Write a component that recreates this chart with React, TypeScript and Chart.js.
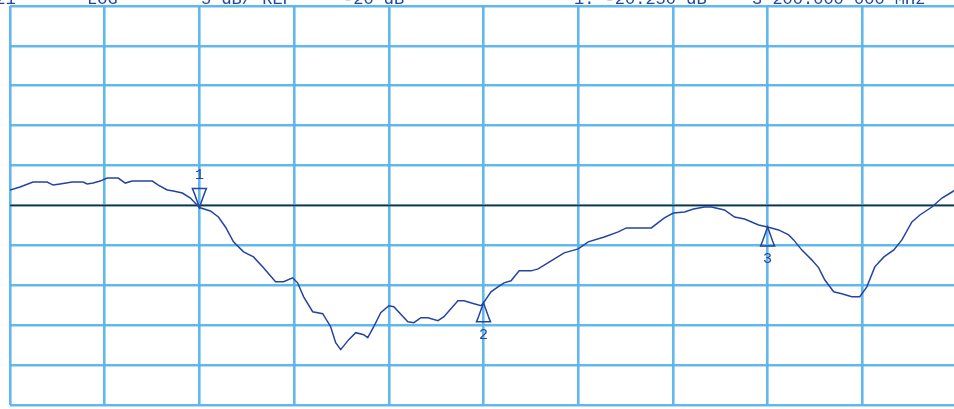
import { useEffect, useRef } from "react";
import { Chart, registerables } from "chart.js";

Chart.register(...registerables);

// Frequency (MHz) and S21 (dB)
const freqMHz = [
  3000.0, 3010.6, 3024.3, 3039.2, 3045.5, 3052.9, 3065.6, 3077.2, 3081.5, 3087.8,
  3095.2, 3102.6, 3114.3, 3121.7, 3129.1, 3150.3, 3156.6, 3166.1, 3172.5, 3182.0,
  3190.5, 3200.0, 3211.6, 3220.1, 3227.5, 3236.0, 3246.6, 3257.1, 3267.7, 3280.4,
  3288.9, 3298.4, 3303.7, 3310.1, 3319.6, 3330.2, 3338.6, 3343.9, 3349.2, 3357.7,
  3365.1, 3373.5, 3377.8, 3384.1, 3391.5, 3400.0, 3405.3, 3420.1, 3426.5, 3433.9,
  3441.3, 3451.9, 3458.2, 3473.0, 3479.4, 3490.0, 3497.4, 3500.0, 3507.9, 3515.3,
  3521.7, 3529.1, 3537.6, 3550.3, 3557.7, 3571.4, 3585.2, 3600.0, 3610.6, 3627.5,
  3642.3, 3650.8, 3677.2, 3691.0, 3700.5, 3712.2, 3721.7, 3733.3, 3740.7, 3754.5,
  3765.1, 3775.7, 3790.5, 3800.0, 3811.6, 3822.2, 3827.5, 3836.0, 3846.6, 3854.0,
  3860.3, 3869.8, 3878.3, 3888.9, 3897.3, 3904.8, 3913.2, 3922.8, 3933.3, 3941.8,
  3952.4, 3960.8, 3973.5, 3984.1, 3994.7, 4000.0,
];
const s21dB = [
  -18.06, -17.69, -17.06, -17.06, -17.44, -17.31, -17.06, -17.06, -17.31, -17.19,
  -16.94, -16.56, -16.56, -17.19, -16.94, -16.94, -17.44, -18.06, -18.19, -18.44,
  -19.06, -20.25, -20.69, -21.44, -22.69, -24.56, -25.81, -26.44, -27.81, -29.56,
  -29.56, -29.06, -29.69, -31.44, -33.31, -33.56, -35.19, -37.19, -38.06, -36.81,
  -35.94, -36.19, -36.56, -35.19, -33.44, -32.56, -32.69, -34.56, -34.69, -34.06,
  -34.06, -34.44, -33.94, -31.94, -31.94, -32.31, -32.56, -32.2, -30.81, -30.19,
  -29.69, -29.44, -28.19, -28.19, -27.94, -26.94, -25.94, -25.44, -24.56, -23.94,
  -23.31, -22.81, -22.81, -21.56, -20.94, -20.81, -20.44, -20.19, -20.19, -20.56,
  -21.44, -21.69, -22.44, -22.7, -23.06, -23.69, -24.31, -25.56, -26.81, -27.81,
  -29.31, -30.81, -31.06, -31.44, -31.44, -30.19, -27.69, -26.44, -25.56, -24.31,
  -22.06, -21.19, -20.19, -19.06, -18.31, -17.81,
];

const markerFreqs = [3200, 3500, 3800];
const markerValues = [-20.25, -32.2, -22.7];
const markerNames = ["1", "2", "3"];

const refLevel = -20;
const startMHz = 3000;
const stopMHz = 4000;
const dbPerDiv = 5;

const headerTexts = ["S21", "LOG", "5 dB/ REF", "-20 dB", "1: -20.250 dB", "3 200.000 000 MHz"];

const TRACE = "#2444a2";
const GRID = "rgba(88,180,235,0.95)";

export default function App() {
  const ref = useRef<HTMLCanvasElement | null>(null);

  useEffect(() => {
    if (!ref.current) return;
    const headerX = [-15, 87, 201, 343, 574, 752];

    const markerPlugin = {
      id: "markers",
      afterDatasetsDraw(chart: any) {
        const ctx = chart.ctx;
        const xs = chart.scales.x;
        const ys = chart.scales.y;
        ctx.save();
        ctx.strokeStyle = TRACE;
        ctx.fillStyle = TRACE;
        ctx.lineWidth = 1.5;
        markerFreqs.forEach((f, i) => {
          const px = xs.getPixelForValue(f);
          const py = ys.getPixelForValue(markerValues[i]);
          const d = i === 0 ? -1 : 1;
          ctx.beginPath();
          ctx.moveTo(px, py);
          ctx.lineTo(px - 5, py + d * 14);
          ctx.lineTo(px - 7, py + d * 19);
          ctx.lineTo(px + 7, py + d * 19);
          ctx.lineTo(px + 5, py + d * 14);
          ctx.closePath();
          ctx.stroke();
          ctx.font = "15px 'Liberation Mono', monospace";
          ctx.textAlign = "center";
          ctx.textBaseline = "middle";
          ctx.fillText(markerNames[i], px, py + d * 32);
        });
        ctx.restore();
      },
      afterDraw(chart: any) {
        const ctx = chart.ctx;
        ctx.save();
        ctx.fillStyle = TRACE;
        ctx.font = "17px 'Liberation Mono', monospace";
        ctx.textAlign = "left";
        ctx.textBaseline = "alphabetic";
        headerTexts.forEach((t, i) => ctx.fillText(t, headerX[i], 16));
        ctx.restore();
      },
    };

    const chart = new Chart(ref.current, {
      type: "line",
      data: {
        datasets: [
          {
            data: freqMHz.map((f, i) => ({ x: f, y: s21dB[i] })),
            borderColor: TRACE,
            borderWidth: 1.5,
            pointRadius: 0,
            tension: 0,
          },
          {
            data: [
              { x: startMHz, y: refLevel },
              { x: stopMHz, y: refLevel },
            ],
            borderColor: "#2b2b2b",
            borderWidth: 1.5,
            pointRadius: 0,
          },
        ],
      },
      options: {
        responsive: false,
        animation: false,
        devicePixelRatio: 1,
        layout: { padding: { left: 10, right: 3, top: 18, bottom: 4 } },
        plugins: { legend: { display: false }, tooltip: { enabled: false } },
        scales: {
          x: {
            type: "linear",
            min: startMHz,
            max: stopMHz,
            ticks: { display: false, stepSize: (stopMHz - startMHz) / 10 },
            grid: { color: GRID, lineWidth: 2.6, drawTicks: false },
            border: { display: false },
          },
          y: {
            type: "linear",
            min: refLevel - 5 * dbPerDiv,
            max: refLevel + 5 * dbPerDiv,
            ticks: { display: false, stepSize: dbPerDiv },
            grid: { color: GRID, lineWidth: 2.6, drawTicks: false },
            border: { display: false },
          },
        },
      },
      plugins: [markerPlugin],
    });
    return () => chart.destroy();
  }, []);

  return (
    <div
      style={{
        position: "fixed",
        left: 0,
        top: 0,
        width: 954,
        height: 409,
        overflow: "hidden",
        background: "#fff",
      }}
    >
      <canvas
        ref={ref}
        width={960}
        height={421}
        style={{ position: "absolute", left: 0, top: -12, width: 960, height: 421 }}
      />
    </div>
  );
}
